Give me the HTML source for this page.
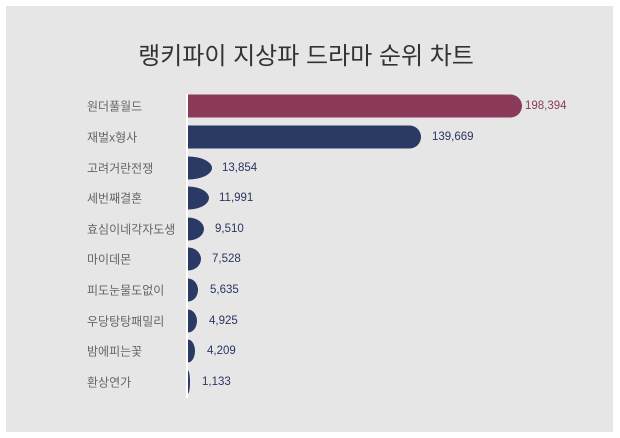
<!DOCTYPE html>
<html><head><meta charset="utf-8"><style>
body{margin:0;width:620px;height:438px;background:#fff;position:relative;overflow:hidden;font-family:"Liberation Sans","Noto Sans CJK KR",sans-serif}
.panel{position:absolute;left:6px;top:6px;width:607px;height:426px;background:#e6e6e6}
.title{position:absolute;left:-4px;width:620px;top:36px;text-align:center;font-size:24px;color:#333}
.axis{position:absolute;left:186px;top:94px;width:2px;height:304px;background:#fff}
.lab{position:absolute;left:87px;font-size:12px;color:#666;transform:translateY(-50%)}
.bar{position:absolute;left:188px;height:23px;background:#2b3a64;transform:translateY(-50%)}
.big{border-radius:0 12px 12px 0}
.sm{border-radius:0 100% 100% 0/0 50% 50% 0}
.val{position:absolute;font-size:11.5px;color:#2b3560;transform:translateY(-50%)}
</style></head><body>
<div class="panel"></div>
<div class="title">랭키파이 지상파 드라마 순위 차트</div>
<div class="axis"></div>

<div class="lab" style="top:106px">원더풀월드</div>
<div class="bar big" style="top:106px;width:334px;background:#8b3b59"></div>
<div class="val" style="top:106px;left:525px;color:#8b3b59">198,394</div>

<div class="lab" style="top:137px">재벌x형사</div>
<div class="bar big" style="top:137px;width:233px"></div>
<div class="val" style="top:137px;left:432px">139,669</div>

<div class="lab" style="top:168px">고려거란전쟁</div>
<div class="bar sm" style="top:168px;width:24px"></div>
<div class="val" style="top:168px;left:222px">13,854</div>

<div class="lab" style="top:198px">세번째결혼</div>
<div class="bar sm" style="top:198px;width:21px"></div>
<div class="val" style="top:198px;left:219px">11,991</div>

<div class="lab" style="top:229px">효심이네각자도생</div>
<div class="bar sm" style="top:229px;width:16px"></div>
<div class="val" style="top:229px;left:215px">9,510</div>

<div class="lab" style="top:259px">마이데몬</div>
<div class="bar sm" style="top:259px;width:13px"></div>
<div class="val" style="top:259px;left:212px">7,528</div>

<div class="lab" style="top:290px">피도눈물도없이</div>
<div class="bar sm" style="top:290px;width:10px"></div>
<div class="val" style="top:290px;left:210px">5,635</div>

<div class="lab" style="top:321px">우당탕탕패밀리</div>
<div class="bar sm" style="top:321px;width:9px"></div>
<div class="val" style="top:321px;left:209px">4,925</div>

<div class="lab" style="top:351px">밤에피는꽃</div>
<div class="bar sm" style="top:351px;width:7px"></div>
<div class="val" style="top:351px;left:207px">4,209</div>

<div class="lab" style="top:382px">환상연가</div>
<div class="bar sm" style="top:382px;width:2px"></div>
<div class="val" style="top:382px;left:202px">1,133</div>
</body></html>
